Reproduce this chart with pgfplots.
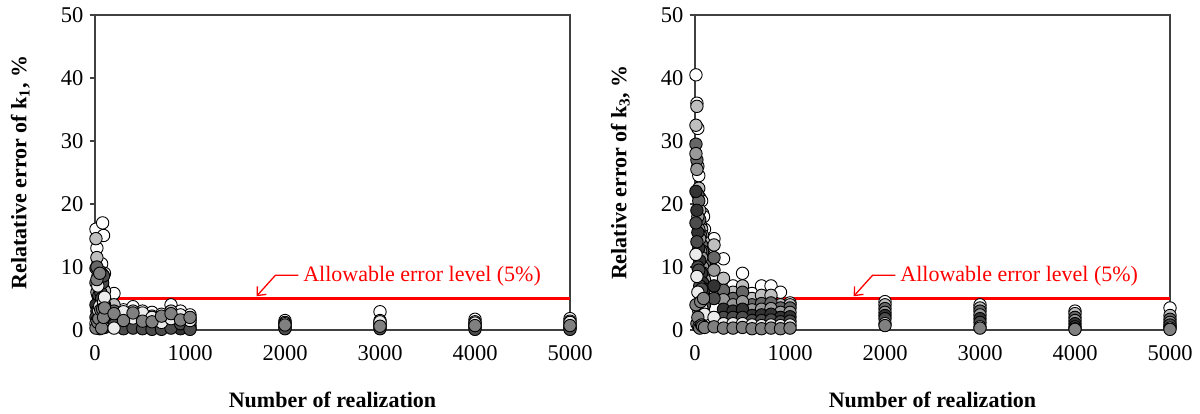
\documentclass[border=0pt]{standalone}
\usepackage{pgfplots}
\pgfplotsset{compat=1.18}
\usepackage{pgfplotstable}
\usepackage{fontspec}
\setmainfont{Liberation Serif}
\usetikzlibrary{arrows.meta}

% columns: x = number of realizations, a = rel. error of k1 (%), b = rel. error of k3 (%)
\pgfplotstableread{
x a b
10 16 40.5
20 13 36
30 10.5 32
40 9.5 24.5
50 8 21
60 7.5 18.5
70 10.5 20.5
80 17 18.5
90 15 18
100 9 16
200 5.8 14.5
300 3.2 11.3
400 3.7 7
500 3.0 9
600 2.8 5.8
700 2.5 7
800 4.0 7
900 3.0 6
1000 2.4 4.3
2000 1.5 4.5
3000 2.9 4.0
4000 1.7 3.0
5000 1.8 3.5
}\sA
\pgfplotstableread{
x a b
10 14.5 32.5
20 11.5 35.5
30 8.5 26
40 7 22.5
50 6.5 19
60 9.2 16.5
70 6.8 16
80 8.8 15
90 6.5 14
100 6.2 13
200 4.0 13.5
300 2.5 8.2
400 3.0 6
500 2.4 7
600 2.2 5
700 2.0 5.5
800 3.0 5.5
900 2.0 4
1000 1.8 4
2000 1.2 4
3000 1.5 3.5
4000 1.3 2.6
5000 1.4 2.3
}\sB
\pgfplotstableread{
x a b
10 9.8 29.5
20 10 27
30 5.5 21.5
40 4.5 20.5
50 5 17.5
60 4.2 15
70 3.6 13.5
80 4.8 12.5
90 3.0 11
100 4 10.5
200 3.0 11.5
300 1.8 6.3
400 2.3 5
500 1.8 6
600 1.6 4
700 1.5 4.2
800 2.2 4.3
900 1.3 3.5
1000 1.2 3.5
2000 0.9 3.4
3000 1.1 3.0
4000 0.9 2.0
5000 0.9 1.7
}\sC
\pgfplotstableread{
x a b
10 7.5 28
20 6 25.5
30 3.5 18
40 2 16
50 2.8 14.5
60 2.2 12.5
70 1.6 11.5
80 2.4 10
90 1.8 9
100 2.6 8
200 2.2 9.5
300 1.2 4.8
400 1.5 4
500 1.1 4.5
600 1.0 3.2
700 0.9 3.3
800 1.4 3.4
900 0.7 2.8
1000 0.7 2.8
2000 0.6 2.8
3000 0.8 2.4
4000 0.6 1.5
5000 0.5 1.2
}\sD
\pgfplotstableread{
x a b
10 4 22
20 3 19
30 2.5 15.5
40 0.4 13
50 1 11
60 0.6 8
70 0.9 9
80 1.1 7.5
90 0.7 6
100 1.3 6.5
200 1.5 7
300 0.6 3.3
400 0.9 3
500 0.5 3.3
600 0.4 2.3
700 0.3 2.4
800 0.8 2.5
900 0.2 2
1000 0.3 2.1
2000 0.4 2.3
3000 0.5 1.8
4000 0.4 1.0
5000 0.3 0.5
}\sE
\pgfplotstableread{
x a b
10 2 17
20 1.5 14
30 0.8 10
40 5.5 9.5
50 0.2 7
60 6 5.5
70 5 6.5
80 7.5 4.5
90 8.6 3.5
100 0.4 4
200 0.8 5
300 0.2 2
400 0.3 2
500 0.2 2
600 0.1 1.5
700 0.1 1.5
800 0.3 1.6
900 1.0 1.3
1000 0.1 1.4
2000 0.2 1.8
3000 0.2 1.2
4000 0.1 0.5
5000 0.1 0.8
}\sF
\pgfplotstableread{
x a b
10 1 12
20 0.5 8.5
30 7 6
40 3 3
50 3.8 2.5
60 1.4 1.5
70 2.6 3.5
80 0.5 2
90 4.4 1.2
100 5.2 2.5
200 0.3 2
300 2.9 1
400 1.9 1
500 2.7 1
600 2.0 0.8
700 1.2 0.7
800 1.8 0.8
900 2.4 0.7
1000 1.5 0.8
2000 1.0 1.0
3000 1.3 0.5
4000 1.1 0.2
5000 1.2 0.3
}\sG
\pgfplotstableread{
x a b
10 0.3 4
20 8 1
30 1.2 2
40 1.8 0.5
50 9 0.3
60 3.2 4.5
70 0.3 0.8
80 3.3 0.6
90 2 5
100 3.5 0.4
200 2.6 0.5
300 1.5 0.3
400 2.7 0.3
500 1.4 0.4
600 1.3 0.2
700 2.2 0.2
800 2.6 0.3
900 1.6 0.2
1000 2.0 0.3
2000 0.8 0.7
3000 0.6 0.3
4000 0.7 0.1
5000 0.7 0.1
}\sH

\newcommand{\ser}[3]{\addplot[only marks, mark=*, mark size=6.2pt,
  mark options={draw=black, fill=#2, line width=0.9pt}] table[x=x,y=#3] {#1};}

\newcommand{\allser}[1]{%
  \ser{\sA}{white}{#1}
  \ser{\sB}{black!25}{#1}
  \ser{\sC}{black!60}{#1}
  \ser{\sD}{black!40}{#1}
  \ser{\sE}{black!80}{#1}
  \ser{\sF}{black!70}{#1}
  \ser{\sG}{black!8}{#1}
  \ser{\sH}{black!50}{#1}}

\pgfplotsset{
  myaxis/.style={
    width=475pt, height=315pt, scale only axis,
    xmin=0, xmax=5000, ymin=0, ymax=50,
    xtick={0,1000,2000,3000,4000,5000},
    ytick={0,10,20,30,40,50},
    scaled ticks=false,
    /pgf/number format/1000 sep={},
    /pgf/number format/assume math mode=true,
    tick align=outside,
    major tick length=5pt,
    ytick pos=left, xtick pos=bottom,
    x tick style={draw=none},
    y tick style={black!75, line width=1.2pt},
    axis line style={black!75, line width=1.2pt},
    tick label style={font=\fontsize{22.5}{26}\selectfont},
    xticklabel style={yshift=-7pt},
    yticklabel style={xshift=-3pt},
    label style={font=\bfseries\fontsize{22}{26}\selectfont},
    xlabel style={at={(axis description cs:0.5,-0.222)}, anchor=center},
    ylabel style={at={(axis description cs:-0.157,0.5)}, anchor=center},
    xlabel={Number of realization},
    clip=false,
  }
}

\begin{document}
\begin{tikzpicture}[x=1pt,y=1pt]
\useasboundingbox (0,0) rectangle (1200,414);

\begin{axis}[myaxis, at={(95pt,84pt)}, anchor=south west,
  ylabel={Relatative error of k\textsubscript{1}, \%}]
\addplot[red, line width=2.4pt] coordinates {(0,5) (5000,5)};
\allser{a}
\draw[red, line width=1.3pt, -{Straight Barb[length=7pt,width=12pt]}]
  (axis cs:2140,8.7) -- (axis cs:1900,8.7) -- (axis cs:1700,5.35);
\node[red, anchor=west, inner sep=0pt, font=\fontsize{22}{26}\selectfont]
  at (axis cs:2190,8.5) {Allowable error level (5\%)};
\end{axis}

\begin{axis}[myaxis, at={(695pt,84pt)}, anchor=south west,
  ylabel={Relative error of k\textsubscript{3}, \%}]
\addplot[red, line width=2.4pt] coordinates {(0,5) (5000,5)};
\allser{b}
\draw[red, line width=1.3pt, -{Straight Barb[length=7pt,width=12pt]}]
  (axis cs:2110,8.7) -- (axis cs:1870,8.7) -- (axis cs:1670,5.35);
\node[red, anchor=west, inner sep=0pt, font=\fontsize{22}{26}\selectfont]
  at (axis cs:2160,8.5) {Allowable error level (5\%)};
\end{axis}
\end{tikzpicture}
\end{document}
